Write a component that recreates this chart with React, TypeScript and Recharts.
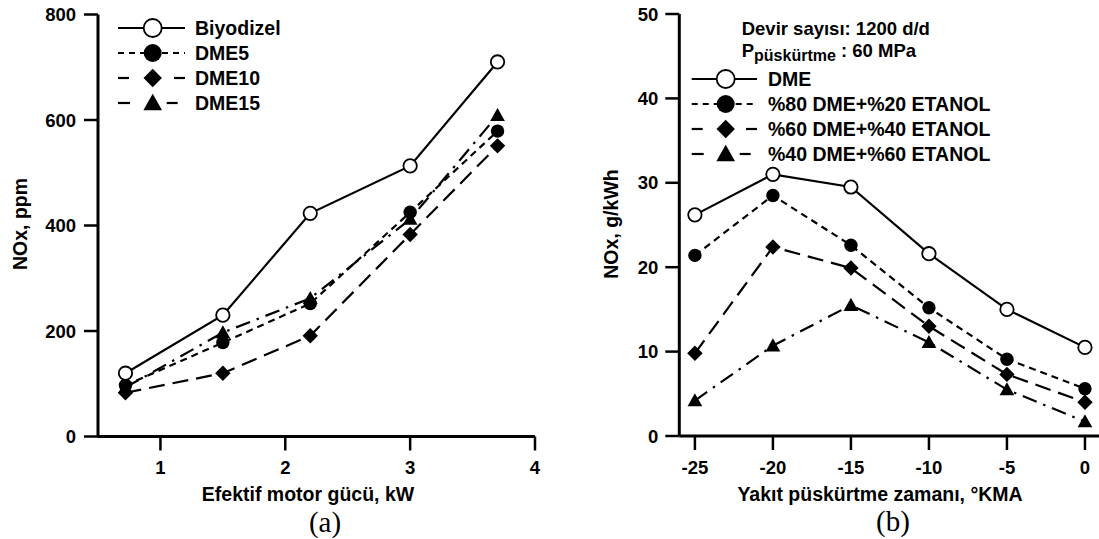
import React from 'react';
import { LineChart, Line, XAxis, YAxis } from 'recharts';

// ---------- Data (a) ----------
const powerKW = [0.72, 1.5, 2.2, 3.0, 3.7];
const biyodizel = [120, 230, 423, 513, 710];
const dme5 = [97, 178, 252, 425, 579];
const dme10 = [83, 120, 191, 383, 551];
const dme15 = [93, 197, 262, 412, 609];
const leftXTicks = [1, 2, 3, 4];
const leftYTicks = [0, 200, 400, 600, 800];

// ---------- Data (b) ----------
const injTiming = [-25, -20, -15, -10, -5, 0];
const dmePure = [26.2, 31.0, 29.5, 21.6, 15.0, 10.5];
const dme80 = [21.4, 28.5, 22.6, 15.2, 9.1, 5.6];
const dme60 = [9.8, 22.4, 19.9, 13.0, 7.3, 4.0];
const dme40 = [4.2, 10.7, 15.5, 11.1, 5.5, 1.7];
const rightXTicks = [-25, -20, -15, -10, -5, 0];
const rightYTicks = [0, 10, 20, 30, 40, 50];

const leftData = powerKW.map((x, i) => ({ x, Biyodizel: biyodizel[i], DME5: dme5[i], DME10: dme10[i], DME15: dme15[i] }));
const rightData = injTiming.map((x, i) => ({ x, DME: dmePure[i], E20: dme80[i], E40: dme60[i], E60: dme40[i] }));

type Shape = 'open' | 'filled' | 'diamond' | 'triangle';
type Style = 'solid' | 'short' | 'long' | 'dashdot';

const DASH: Record<Style, string | undefined> = {
  solid: undefined,
  short: '7 5',
  long: '16 8',
  dashdot: '15 7 2.5 7',
};

const leftSeries: { key: string; name: string; style: Style; shape: Shape }[] = [
  { key: 'DME15', name: 'DME15', style: 'dashdot', shape: 'triangle' },
  { key: 'DME10', name: 'DME10', style: 'long', shape: 'diamond' },
  { key: 'DME5', name: 'DME5', style: 'short', shape: 'filled' },
  { key: 'Biyodizel', name: 'Biyodizel', style: 'solid', shape: 'open' },
];
const leftLegendOrder = ['Biyodizel', 'DME5', 'DME10', 'DME15'];

const rightSeries: { key: string; name: string; style: Style; shape: Shape }[] = [
  { key: 'E60', name: '%40 DME+%60 ETANOL', style: 'dashdot', shape: 'triangle' },
  { key: 'E40', name: '%60 DME+%40 ETANOL', style: 'long', shape: 'diamond' },
  { key: 'E20', name: '%80 DME+%20 ETANOL', style: 'short', shape: 'filled' },
  { key: 'DME', name: 'DME', style: 'solid', shape: 'open' },
];
const rightLegendOrder = ['DME', 'E20', 'E40', 'E60'];

const FONT = "'Liberation Sans', Arial, Helvetica, sans-serif";

function Marker({ shape, cx, cy, s }: { shape: Shape; cx: number; cy: number; s: number }) {
  if (cx == null || cy == null || isNaN(cx) || isNaN(cy)) return null;
  switch (shape) {
    case 'open':
      return <circle cx={cx} cy={cy} r={s} fill="#fff" stroke="#000" strokeWidth={1.8} />;
    case 'filled':
      return <circle cx={cx} cy={cy} r={s} fill="#000" />;
    case 'diamond': {
      const d = s * 1.15;
      return <polygon points={`${cx},${cy - d} ${cx + d},${cy} ${cx},${cy + d} ${cx - d},${cy}`} fill="#000" />;
    }
    case 'triangle':
    default:
      return (
        <polygon
          points={`${cx},${cy - s * 1.1} ${cx + s * 1.1},${cy + s * 0.85} ${cx - s * 1.1},${cy + s * 0.85}`}
          fill="#000"
        />
      );
  }
}

const makeDot = (shape: Shape) => (props: any) => (
  <g key={`dot-${shape}-${props.index}`}>
    <Marker shape={shape} cx={props.cx} cy={props.cy} s={6.7} />
  </g>
);

const YTick = (props: any) => {
  const { x, y, payload } = props;
  return (
    <text x={x} y={y} dy={6.5} textAnchor="end" fontFamily={FONT} fontWeight="bold" fontSize={18.5} fill="#000">
      {payload.value}
    </text>
  );
};

const XTick = (props: any) => {
  const { x, y, payload } = props;
  return (
    <text x={x} y={y} dy={19.5} textAnchor="middle" fontFamily={FONT} fontWeight="bold" fontSize={18.5} fill="#000">
      {payload.value}
    </text>
  );
};

function LegendRow({
  x0, x1, mx, tx, y, style, shape, label,
}: { x0: number; x1: number; mx: number; tx: number; y: number; style: Style; shape: Shape; label: string }) {
  let lines: React.ReactNode;
  if (style === 'solid') {
    lines = <line x1={x0} x2={x1} y1={y} y2={y} stroke="#000" strokeWidth={2.2} />;
  } else if (style === 'short') {
    lines = <line x1={x0} x2={x1} y1={y} y2={y} stroke="#000" strokeWidth={2.2} strokeDasharray="6 5" />;
  } else if (style === 'long') {
    lines = (
      <>
        <line x1={x0} x2={x0 + 11} y1={y} y2={y} stroke="#000" strokeWidth={2.2} />
        <line x1={x1 - 11} x2={x1} y1={y} y2={y} stroke="#000" strokeWidth={2.2} />
      </>
    );
  } else {
    lines = (
      <>
        <line x1={x0} x2={x0 + 12} y1={y} y2={y} stroke="#000" strokeWidth={2.2} />
        <line x1={mx + 14} x2={mx + 25} y1={y} y2={y} stroke="#000" strokeWidth={2.2} />
      </>
    );
  }
  return (
    <g>
      {lines}
      <Marker shape={shape} cx={mx} cy={y} s={shape === 'triangle' ? 8.5 : shape === 'diamond' ? 8 : 9} />
      <text x={tx} y={y + 7} fontFamily={FONT} fontWeight="bold" fontSize={19.5} fill="#000">
        {label}
      </text>
    </g>
  );
}

export default function App() {
  const leftRows = [28, 53, 78, 103];
  const rightRows = [79, 104, 129, 154];
  return (
    <div style={{ position: 'absolute', left: 0, top: 0, width: 1099, height: 539, background: '#fff', overflow: 'hidden' }}>
      <div style={{ position: 'absolute', left: 0, top: 0 }}>
        <LineChart width={560} height={539} data={leftData} margin={{ top: 14.5, right: 25, left: 38, bottom: 42.5 }}>
          <XAxis
            dataKey="x"
            type="number"
            domain={[0.5, 4]}
            ticks={leftXTicks}
            allowDataOverflow
            height={60}
            tickSize={14}
            tickMargin={4}
            axisLine={{ stroke: '#000', strokeWidth: 3 }}
            tickLine={{ stroke: '#000', strokeWidth: 2.5 }}
            tick={<XTick />}
          />
          <YAxis
            type="number"
            domain={[0, 800]}
            ticks={leftYTicks}
            width={60}
            tickSize={14}
            tickMargin={8}
            axisLine={{ stroke: '#000', strokeWidth: 3 }}
            tickLine={{ stroke: '#000', strokeWidth: 2.5 }}
            tick={<YTick />}
          />
          {leftSeries.map((s) => (
            <Line
              key={s.key}
              dataKey={s.key}
              name={s.name}
              type="linear"
              stroke="#000"
              strokeWidth={2.2}
              strokeDasharray={DASH[s.style]}
              dot={makeDot(s.shape)}
              activeDot={false}
              isAnimationActive={false}
            />
          ))}
        </LineChart>
      </div>
      <div style={{ position: 'absolute', left: 600, top: 0 }}>
        <LineChart width={499} height={539} data={rightData} margin={{ top: 14, right: 0, left: 19.3, bottom: 43 }}>
          <XAxis
            dataKey="x"
            type="number"
            domain={[-26, 0.9]}
            ticks={rightXTicks}
            allowDataOverflow
            height={60}
            tickSize={14}
            tickMargin={4}
            axisLine={{ stroke: '#000', strokeWidth: 3 }}
            tickLine={{ stroke: '#000', strokeWidth: 2.5 }}
            tick={<XTick />}
          />
          <YAxis
            type="number"
            domain={[0, 50]}
            ticks={rightYTicks}
            width={60}
            tickSize={14}
            tickMargin={7}
            axisLine={{ stroke: '#000', strokeWidth: 3 }}
            tickLine={{ stroke: '#000', strokeWidth: 2.5 }}
            tick={<YTick />}
          />
          {rightSeries.map((s) => (
            <Line
              key={s.key}
              dataKey={s.key}
              name={s.name}
              type="linear"
              stroke="#000"
              strokeWidth={2.2}
              strokeDasharray={DASH[s.style]}
              dot={makeDot(s.shape)}
              activeDot={false}
              isAnimationActive={false}
            />
          ))}
        </LineChart>
      </div>
      <svg width={1099} height={539} style={{ position: 'absolute', left: 0, top: 0, pointerEvents: 'none' }}>
        {leftLegendOrder.map((k, i) => {
          const s = leftSeries.find((q) => q.key === k)!;
          return (
            <LegendRow key={k} x0={118} x1={185} mx={152.7} tx={195} y={leftRows[i]} style={s.style} shape={s.shape} label={s.name} />
          );
        })}
        <text x={741.7} y={35} fontFamily={FONT} fontWeight="bold" fontSize={18.5} fill="#000">
          Devir sayısı: 1200 d/d
        </text>
        <text x={741.7} y={56.5} fontFamily={FONT} fontWeight="bold" fontSize={18.5} fill="#000">
          P
          <tspan dy={4.5} fontSize={16}>püskürtme</tspan>
          <tspan dy={-4.5} fontSize={18.5}> : 60 MPa</tspan>
        </text>
        {rightLegendOrder.map((k, i) => {
          const s = rightSeries.find((q) => q.key === k)!;
          return (
            <LegendRow key={k} x0={691.7} x1={757} mx={725.7} tx={768} y={rightRows[i]} style={s.style} shape={s.shape} label={s.name} />
          );
        })}
        <text x={308} y={501} textAnchor="middle" fontFamily={FONT} fontWeight="bold" fontSize={19.5} fill="#000">
          Efektif motor gücü, kW
        </text>
        <text x={880} y={501} textAnchor="middle" fontFamily={FONT} fontWeight="bold" fontSize={19.5} fill="#000">
          Yakıt püskürtme zamanı, °KMA
        </text>
        <text x={27} y={224} transform="rotate(-90 27 224)" textAnchor="middle" fontFamily={FONT} fontWeight="bold" fontSize={19.5} fill="#000">
          NOx, ppm
        </text>
        <text x={618} y={224} transform="rotate(-90 618 224)" textAnchor="middle" fontFamily={FONT} fontWeight="bold" fontSize={19.5} fill="#000">
          NOx, g/kWh
        </text>
        <text x={325} y={532} textAnchor="middle" fontFamily="'Liberation Serif', 'Times New Roman', serif" fontSize={29} fill="#000">
          (a)
        </text>
        <text x={893} y={531} textAnchor="middle" fontFamily="'Liberation Serif', 'Times New Roman', serif" fontSize={29} fill="#000">
          (b)
        </text>
      </svg>
    </div>
  );
}
